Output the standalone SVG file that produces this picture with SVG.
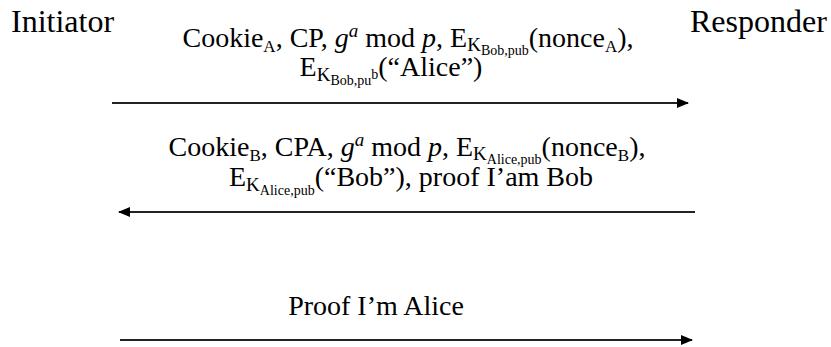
<svg xmlns="http://www.w3.org/2000/svg" width="831" height="347" viewBox="0 0 831 347">
  <style>
    .party { font-family: "Liberation Serif", "Times New Roman", serif; font-size: 32px; fill: #000; }
    .msg { font-family: "Liberation Serif", "Times New Roman", serif; font-size: 28px; fill: #000; text-anchor: middle; }
    .it { font-style: italic; }
    .sub { font-size: 17px; }
    .k { font-size: 19px; }
    .sub2 { font-size: 14px; }
    .flow { stroke: #222; stroke-width: 2; fill: none; marker-end: url(#head); }
  </style>
  <defs>
    <marker id="head" markerUnits="userSpaceOnUse" markerWidth="12" markerHeight="12" refX="11" refY="6" orient="auto">
      <path d="M0,1 L12,6 L0,11 z" fill="#000"/>
    </marker>
  </defs>

  <g id="initiator">
    <text class="party" x="11" y="32">Initiator</text>
  </g>
  <g id="responder">
    <text class="party" x="690" y="32">Responder</text>
  </g>

  <g id="connectors">
    <!-- message 1: initiator to responder -->
    <line class="flow" x1="112" y1="103" x2="688" y2="103"/>
    <text class="msg" x="408" y="47">Cookie<tspan class="sub" dy="5">A</tspan><tspan dy="-5">, CP, </tspan><tspan class="it">g</tspan><tspan class="it" font-size="19" dy="-10">a</tspan><tspan dy="10"> mod </tspan><tspan class="it">p</tspan><tspan>, E</tspan><tspan class="k" dy="4">K</tspan><tspan class="sub2" dy="4">Bob,pub</tspan><tspan dy="-8">(nonce</tspan><tspan class="sub" dy="5">A</tspan><tspan dy="-5">),</tspan></text>
    <text class="msg" x="391" y="76">E<tspan class="k" dy="5">K</tspan><tspan class="sub2" dy="4">Bob,pu</tspan><tspan class="sub2" dy="-6">b</tspan><tspan dy="-3">(“Alice”)</tspan></text>

    <!-- message 2: responder to initiator -->
    <line class="flow" x1="695" y1="212" x2="119" y2="212"/>
    <text class="msg" x="407" y="156">Cookie<tspan class="sub" dy="5">B</tspan><tspan dy="-5">, CPA, </tspan><tspan class="it">g</tspan><tspan class="it" font-size="19" dy="-10">a</tspan><tspan dy="10"> mod </tspan><tspan class="it">p</tspan><tspan>, E</tspan><tspan class="k" dy="4">K</tspan><tspan class="sub2" dy="4">Alice,pub</tspan><tspan dy="-8">(nonce</tspan><tspan class="sub" dy="5">B</tspan><tspan dy="-5">),</tspan></text>
    <text class="msg" x="411" y="186">E<tspan class="k" dy="5">K</tspan><tspan class="sub2" dy="4">Alice,pub</tspan><tspan dy="-9">(“Bob”), proof I’am Bob</tspan></text>

    <!-- message 3: initiator to responder -->
    <line class="flow" x1="120" y1="340" x2="692" y2="340"/>
    <text class="msg" x="376" y="315" font-size="26">Proof I’m Alice</text>
  </g>
</svg>
